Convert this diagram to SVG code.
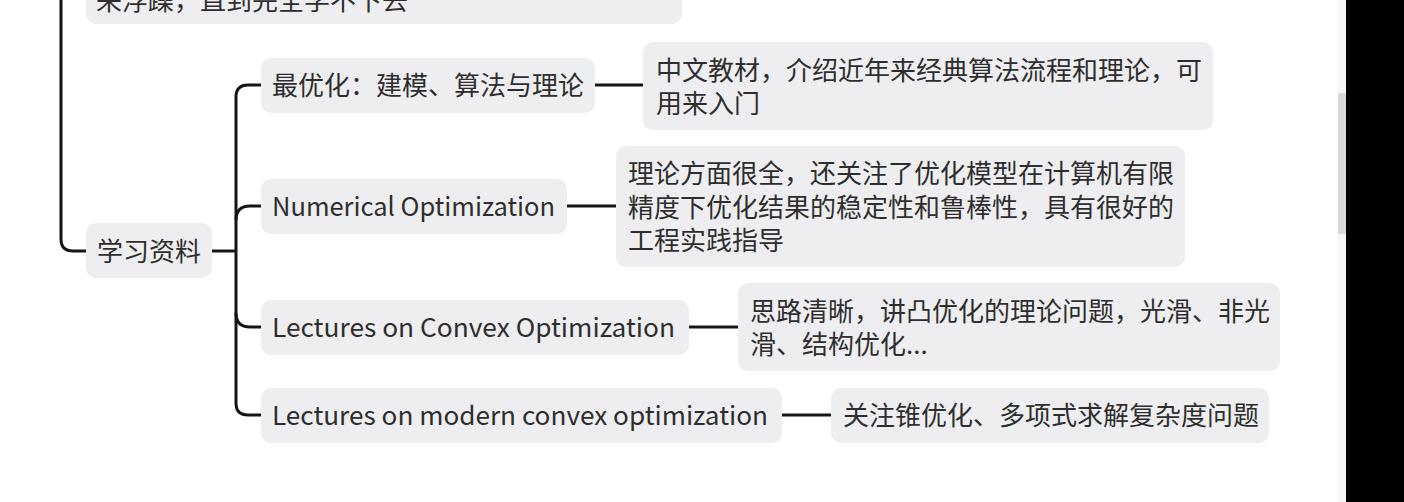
<svg xmlns="http://www.w3.org/2000/svg" width="1404" height="502" viewBox="0 0 1404 502">
<style>
.box{fill:#eeeef0}
.t{font-family:"Noto Sans CJK SC","Noto Sans",sans-serif;font-size:26px;fill:#2e2e2e;dominant-baseline:central}
.c{fill:none;stroke:#151515;stroke-width:3;stroke-linecap:butt}
</style>
<rect width="1404" height="502" fill="#ffffff"/>
<g id="connectors">
<path class="c" d="M61,0 V239 Q61,251 73,251 H86"/>
<path class="c" d="M212,251 H236"/>
<path class="c" d="M261,85 H248 Q236,85 236,97 V403 Q236,415 248,415 H261"/>
<path class="c" d="M236,220 Q236,206 250,206 H261"/>
<path class="c" d="M236,313 Q236,327 250,327 H261"/>
<path class="c" d="M595,85 H643"/>
<path class="c" d="M567,206 H616"/>
<path class="c" d="M689,327 H738"/>
<path class="c" d="M782,415 H831"/>
</g>
<g id="node-top">
<rect class="box" x="86" y="-30" width="596" height="54" rx="10"/>
<text class="t" x="96" y="-2">来浮躁，直到完全学不下去</text>
</g>
<g id="node-xuexi">
<rect class="box" x="86" y="223" width="126" height="55" rx="10"/>
<text class="t" x="97" y="249">学习资料</text>
</g>
<g id="node-zuiyouhua">
<rect class="box" x="261" y="58" width="334" height="55" rx="10"/>
<text class="t" x="272" y="83">最优化：建模、算法与理论</text>
</g>
<g id="node-zuiyouhua-note">
<rect class="box" x="643" y="42" width="570" height="88" rx="10"/>
<text class="t" x="656" y="68">中文教材，介绍近年来经典算法流程和理论，可</text>
<text class="t" x="656" y="101">用来入门</text>
</g>
<g id="node-numerical">
<rect class="box" x="261" y="179" width="306" height="55" rx="10"/>
<text class="t" x="272" y="204" textLength="283" lengthAdjust="spacingAndGlyphs">Numerical Optimization</text>
</g>
<g id="node-numerical-note">
<rect class="box" x="616" y="146" width="569" height="121" rx="10"/>
<text class="t" x="628" y="171">理论方面很全，还关注了优化模型在计算机有限</text>
<text class="t" x="628" y="205">精度下优化结果的稳定性和鲁棒性，具有很好的</text>
<text class="t" x="628" y="238">工程实践指导</text>
</g>
<g id="node-convex">
<rect class="box" x="261" y="300" width="428" height="55" rx="10"/>
<text class="t" x="272" y="325" textLength="403" lengthAdjust="spacingAndGlyphs">Lectures on Convex Optimization</text>
</g>
<g id="node-convex-note">
<rect class="box" x="738" y="283" width="542" height="88" rx="10"/>
<text class="t" x="750" y="309">思路清晰，讲凸优化的理论问题，光滑、非光</text>
<text class="t" x="750" y="342">滑、结构优化...</text>
</g>
<g id="node-modern">
<rect class="box" x="261" y="388" width="521" height="55" rx="10"/>
<text class="t" x="272" y="413" textLength="496" lengthAdjust="spacingAndGlyphs">Lectures on modern convex optimization</text>
</g>
<g id="node-modern-note">
<rect class="box" x="831" y="388" width="438" height="55" rx="10"/>
<text class="t" x="843" y="413">关注锥优化、多项式求解复杂度问题</text>
</g>
<g id="scrollbar">
<rect x="1338" y="0" width="8" height="502" fill="#f6f6f7"/>
<rect x="1338" y="93" width="8" height="141" fill="#dadadc"/>
<rect x="1346" y="0" width="58" height="502" fill="#000000"/>
</g>
</svg>
